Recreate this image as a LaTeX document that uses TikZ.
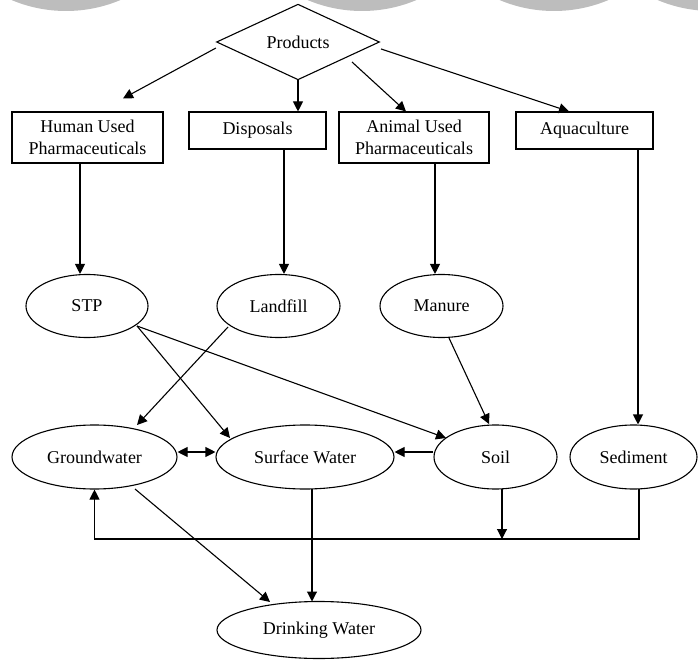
\documentclass[tikz,border=0pt]{standalone}
\usepackage{fontspec}
\setmainfont{Liberation Serif}
\usetikzlibrary{shapes.geometric, arrows.meta}

\begin{document}
\begin{tikzpicture}[x=1pt, y=-1pt, line width=1.1pt,
    >={Triangle[length=10pt, width=10pt]},
    font=\fontsize{18}{21.5}\selectfont,
    box/.style={draw, rectangle, inner sep=0pt, align=center},
    blob/.style={draw, ellipse, inner sep=0pt, minimum height=63pt}]

    \useasboundingbox (0,0) rectangle (698,660);

    % grey blobs cut off by the top edge
    \begin{scope}
      \clip (0,0) rectangle (698,660);
      \foreach \cx in {66, 362, 554, 712}
        \fill[black!26] (\cx,-129) circle (140pt);
    \end{scope}

    % the source and the four kinds of use
    \node[diamond, draw, inner sep=0pt, minimum width=163pt, minimum height=61pt] (prod) at (298,42) {Products};
    \node[box, minimum width=151pt, minimum height=51pt] (hum) at (87.5,137.5) {Human Used\\Pharmaceuticals};
    \node[box, minimum width=137pt, minimum height=37pt] (disp) at (257.5,130.5) {Disposals};
    \node[box, minimum width=150pt, minimum height=51pt] (anim) at (414,137.5) {Animal Used\\Pharmaceuticals};
    \node[box, minimum width=137pt, minimum height=37pt] (aqua) at (584.5,130.5) {Aquaculture};

    % where it ends up
    \node[blob, minimum width=122pt] (stp) at (87,306) {STP};
    \node[blob, minimum width=123pt] (lf) at (278.5,306) {Landfill};
    \node[blob, minimum width=123pt] (man) at (441.5,306) {Manure};
    \node[blob, minimum width=165pt, minimum height=64pt] (gw) at (94.5,457) {Groundwater};
    \node[blob, minimum width=178pt, minimum height=64pt] (sw) at (305,457) {Surface Water};
    \node[blob, minimum width=123pt, minimum height=64pt] (soil) at (495.5,457) {Soil};
    \node[blob, minimum width=127pt, minimum height=64pt] (sed) at (633.5,457) {Sediment};
    \node[blob, minimum width=204pt, minimum height=57pt] (dw) at (319,630) {Drinking Water};

    % products to the four uses
    \draw[->] ([shift={(0,6)}]prod.west) -- ([shift={(35.5,-13)}]hum.north);
    \draw[->] (prod.south) -- (prod.south |- disp.north);
    \draw[->] ([shift={(54,20)}]prod.center) -- ([shift={(-8,0)}]anim.north);
    \draw[->] ([shift={(1,7)}]prod.east) -- ([shift={(-15.5,0)}]aqua.north);

    % straight down from each use
    \draw[->] ([shift={(-7.5,0)}]hum.south) -- ([shift={(-7,0)}]stp.north);
    \draw[->] ([shift={(26.5,0)}]disp.south) -- ([shift={(5.5,0)}]lf.north);
    \draw[->] ([shift={(21,0)}]anim.south) -- ([shift={(-6.5,0)}]man.north);
    \draw[->] ([shift={(53.5,0)}]aqua.south) -- ([shift={(4.5,0)}]sed.north);

    % crossing links into the waters and the soil
    \draw[->] ([shift={(50,20)}]stp.center) -- ([shift={(-75,-19)}]sw.center);
    \draw[->] ([shift={(50,20)}]stp.center) -- ([shift={(-49.5,-19)}]soil.center);
    \draw[->] ([shift={(-50.5,21)}]lf.center) -- ([shift={(42.5,-32)}]gw.center);
    \draw[->] ([shift={(7.5,32)}]man.center) -- ([shift={(-6.5,-33)}]soil.center);

    % exchange between the waters
    \draw[<->] ([yshift=5pt]gw.east) -- ([yshift=5pt]sw.west);
    \draw[->] ([yshift=5pt]soil.west) -- ([yshift=5pt]sw.east);

    % down to drinking water
    \draw[->] ([shift={(40.5,32)}]gw.center) -- ([shift={(-49,-28)}]dw.center);
    \draw[->] ([shift={(7,32)}]sw.center) -- ([shift={(-7,-28.5)}]dw.center);

    % soil and sediment back up to groundwater
    \draw[->] ([shift={(6.5,32)}]soil.center) -- ++(0,50);
    \draw[->] ([shift={(5.5,32)}]sed.center) -- ++(0,50) -| (gw.south);

\end{tikzpicture}
\end{document}
